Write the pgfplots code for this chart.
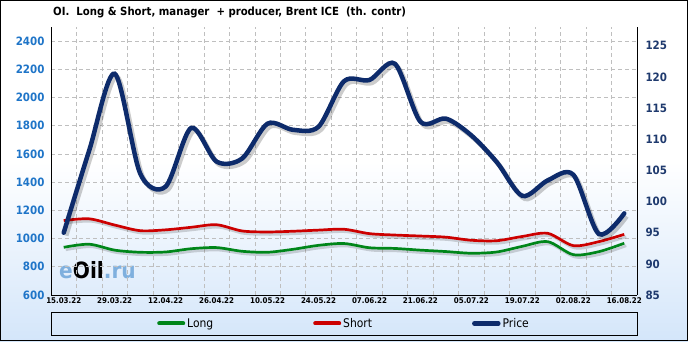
\documentclass[border=0pt]{standalone}
\usepackage{pgfplots}
\pgfplotsset{compat=1.18}
\usepackage{fontspec}
\setmainfont{DejaVu Sans Condensed}
\definecolor{lblue}{HTML}{1F75C8}
\definecolor{rnavy}{HTML}{1F3A6E}
\definecolor{pnavy}{HTML}{0D2B6B}
\definecolor{sred}{HTML}{CC0000}
\definecolor{lgreen}{HTML}{00861A}
\definecolor{bgblue}{RGB}{212,230,250}
\definecolor{wmblue}{HTML}{7FB0DE}
\pgfdeclarelayer{background}
\pgfsetlayers{background,main}

\pgfplotstableread{
idx long short price
0  938  1128  95.0
1  960  1140  108.2
2  918  1096  120.5
3  903  1056  104.5
4  905  1062  102.4
5  928  1080  111.8
6  936  1098  106.4
7  910  1054  106.9
8  903  1047  112.5
9  924  1052  111.5
10 952  1060  112.0
11 965  1066  119.3
12 935  1035  119.5
13 930  1025  122.1
14 918  1018  112.8
15 908  1010  113.3
16 896  988   110.6
17 905  985   106.3
18 945  1015  100.9
19 978  1037  103.4
20 886  950   104.3
21 907  978   94.8
22 967  1030  98.1
}\data

\begin{document}
\begin{tikzpicture}
\begin{axis}[
  width=586bp, height=268bp, scale only axis,
  xmin=-0.5, xmax=22.5, ymin=600, ymax=2500,
  axis line style={black,line width=1bp},
  xtick={0,2,...,22},
  xticklabels={15.03.22,29.03.22,12.04.22,26.04.22,10.05.22,24.05.22,07.06.22,21.06.22,05.07.22,19.07.22,02.08.22,16.08.22},
  minor xtick={0.5,1.5,...,21.5},
  ytick={600,800,...,2400},
  major tick length=0pt, minor tick length=0pt,
  xminorgrids=true, xmajorgrids=false, ymajorgrids=true,
  grid style={gray!50,dash pattern=on 4bp off 3bp,line width=0.6bp},
  minor grid style={gray!50,dash pattern=on 4bp off 3bp,line width=0.6bp},
  axis y line*=left,
  axis x line*=bottom,
  /pgf/number format/assume math mode=true,
  /pgf/number format/1000 sep={},
  yticklabel style={font=\bfseries\fontsize{11.5}{13}\selectfont,text=lblue,anchor=east,xshift=-3bp},
  xticklabel style={font=\bfseries\fontsize{7.9}{9}\selectfont,text=black,yshift=1bp},
  clip=false,
]
\coordinate (O) at (rel axis cs:0,0);
\addplot[black,opacity=0.16,line width=2.6bp,smooth,forget plot,shift={(2bp,-2.5bp)}] table[x=idx,y=long]{\data};
\addplot[black,opacity=0.16,line width=2.6bp,smooth,forget plot,shift={(2bp,-2.5bp)}] table[x=idx,y=short]{\data};
\addplot[lgreen,line width=2.7bp,smooth] table[x=idx,y=long]{\data};
\addplot[sred,line width=2.7bp,smooth] table[x=idx,y=short]{\data};
\end{axis}

\begin{axis}[
  at={(O)}, anchor=south west,
  width=586bp, height=268bp, scale only axis,
  xmin=-0.5, xmax=22.5, ymin=85, ymax=128,
  axis x line=none,
  axis y line*=right,
  axis line style={black,line width=1bp},
  ytick={85,90,...,125},
  major tick length=0pt,
  /pgf/number format/assume math mode=true,
  yticklabel style={font=\bfseries\fontsize{11.5}{13}\selectfont,text=rnavy,anchor=west,xshift=5bp},
  legend columns=3,
  legend style={at={(0.5,-0.106)},anchor=center,draw=none,fill=none,
    font=\fontsize{12}{13}\selectfont,
    /tikz/every even column/.append style={column sep=98bp}},
  legend image code/.code={\draw[#1,line cap=round] (0bp,0bp) -- (24bp,0bp);},
]
\addlegendimage{lgreen,line width=4bp}
\addlegendentry{Long}
\addlegendimage{sred,line width=4bp}
\addlegendentry{Short}
\addplot[black,opacity=0.2,line width=4.5bp,smooth,forget plot,shift={(2.5bp,-3bp)}] table[x=idx,y=price]{\data};
\addplot[pnavy,line width=4.5bp,smooth,line cap=round] table[x=idx,y=price]{\data};
\addlegendentry{Price}
\end{axis}

\begin{scope}[shift={(O)},xshift=-51bp,yshift=-46bp,x=1bp,y=1bp]
\begin{pgfonlayer}{background}
\fill[white] (0,0) rectangle (688,341);
\shade[top color=white,bottom color=bgblue] (0,0) rectangle (688,180);
\node[anchor=west,inner sep=0pt,font=\bfseries\fontsize{22.5}{24}\selectfont] at (59,71)
  {\textcolor{wmblue}{e}\textcolor{black}{Oil}\textcolor{wmblue}{.ru}};
\end{pgfonlayer}
\draw[black,line width=1.3bp] (0.65,0.65) rectangle (687.35,340.35);
\node[anchor=west,inner sep=0pt,font=\bfseries\fontsize{11.3}{13}\selectfont] at (53,328.5)
  {OI.\ \ Long \& Short, manager\ \ + producer, Brent ICE\ \ (th. contr)};
\draw[black,line width=1bp] (51,6) rectangle (637,29);
\end{scope}
\end{tikzpicture}
\end{document}
